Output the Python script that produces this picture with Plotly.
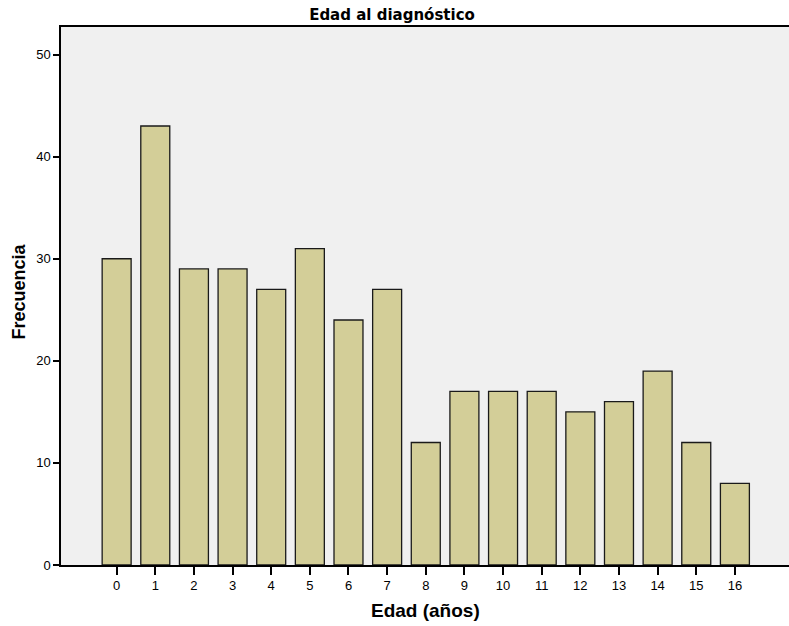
import plotly.graph_objects as go

ages = [str(i) for i in range(17)]
freq = [30, 43, 29, 29, 27, 31, 24, 27, 12, 17, 17, 17, 15, 16, 19, 12, 8]
y_ticks = [0, 10, 20, 30, 40, 50]

fig = go.Figure(go.Bar(
    x=list(range(17)), y=freq,
    width=0.75,
    marker=dict(color="#D3CE98", line=dict(color="#1a1a1a", width=1.3)),
))

font = "Liberation Sans, Arial, sans-serif"
W, H = 789, 626
L, R, T, B = 61, 0, 27, 61
pw, ph = W - L - R, H - T - B

fig.update_layout(
    width=W, height=H,
    margin=dict(l=L, r=R, t=T, b=B),
    paper_bgcolor="white", plot_bgcolor="#F0F0F0",
    showlegend=False,
    font=dict(family=font, size=13, color="black"),
    title=dict(text="<b>Edad al diagnóstico</b>", x=392 / W, xref="container",
               xanchor="center",
               y=(H - 15) / H, yref="container", yanchor="middle",
               font=dict(size=15, family="DejaVu Sans, sans-serif")),
    xaxis=dict(range=[-1.44, 17.4], tickmode="array", tickvals=list(range(17)),
               ticktext=ages, ticks="outside", ticklen=8, tickwidth=1.5,
               tickcolor="black", showline=True, linecolor="black", linewidth=1.5,
               mirror=True, showgrid=False, zeroline=False,
               tickfont=dict(size=13)),
    yaxis=dict(range=[0, 52.7], tickvals=y_ticks, ticks="outside", ticklen=6,
               tickwidth=1.5, tickcolor="black", showline=True, linecolor="black",
               linewidth=1.5, showgrid=False, zeroline=False,
               tickfont=dict(size=13)),
    annotations=[
        dict(text="<b>Edad (años)</b>", xref="paper", yref="paper",
             x=(425 - L) / pw, y=(H - B - 610) / ph,
             xanchor="center", yanchor="middle", showarrow=False,
             font=dict(size=19, family=font)),
        dict(text="<b>Frecuencia</b>", xref="paper", yref="paper",
             x=(18.5 - L) / pw, y=(H - B - 292) / ph, textangle=-90,
             xanchor="center", yanchor="middle", showarrow=False,
             font=dict(size=18, family=font)),
    ],
)

fig.write_html("out.html", config={"displayModeBar": False},
               post_script="document.body.style.margin='0';document.body.style.overflow='hidden';")
